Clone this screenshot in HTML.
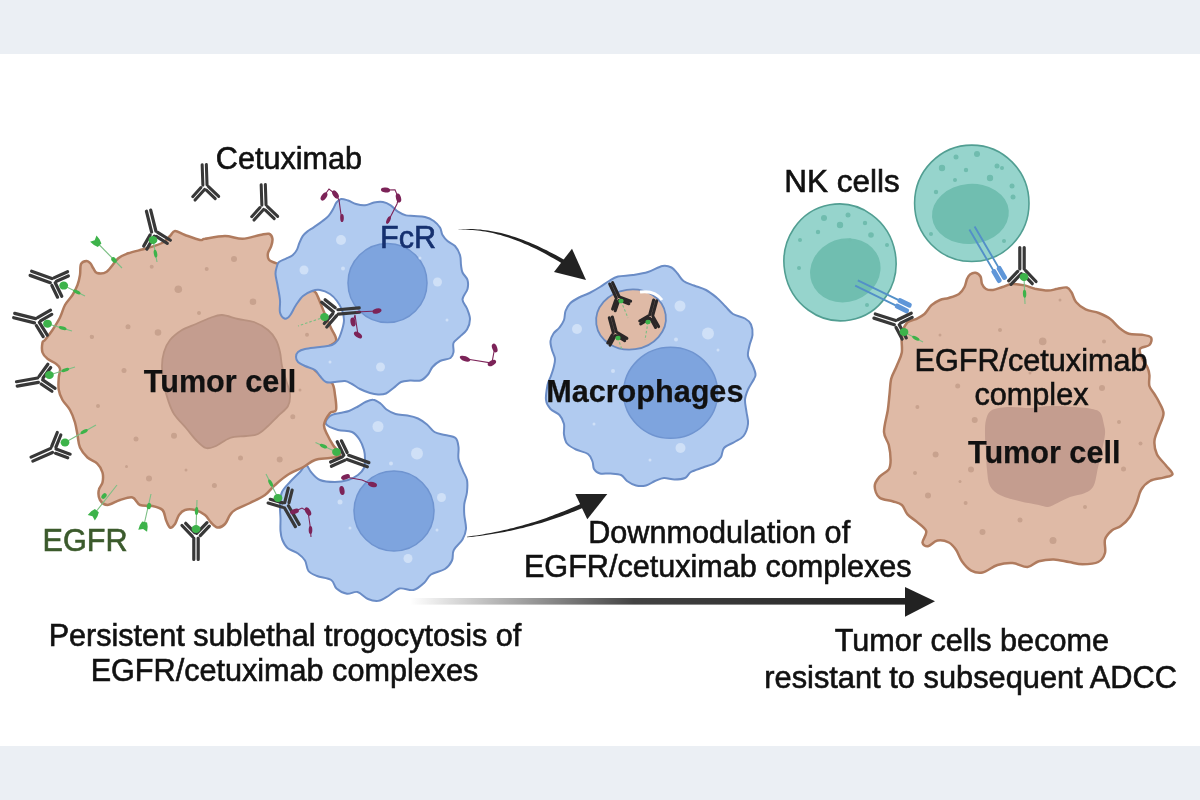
<!DOCTYPE html>
<html><head><meta charset="utf-8"><style>
html,body{margin:0;padding:0;background:#ebeff4;}
body{width:1200px;height:800px;overflow:hidden;position:relative;font-family:"Liberation Sans",sans-serif;}
svg{position:absolute;left:0;top:0;display:block;filter:blur(0.35px);}
text{font-family:"Liberation Sans",sans-serif;}
</style></head><body>
<svg width="1200" height="800" viewBox="0 0 1200 800">
<defs><filter id="sb" x="-20%" y="-20%" width="140%" height="140%"><feGaussianBlur stdDeviation="0.6"/></filter></defs>
<rect x="0" y="54" width="1200" height="692" fill="#ffffff"/>
<path d="M340 413C343.2 412.2 346 412.1 349 411C352 409.9 355.2 408 358 406.5C360.8 405 363 403.1 365.5 402C368 400.9 370.5 399.5 373 399.8C375.5 400 378.2 401.9 380.5 403.5C382.8 405.1 384 407.8 386.5 409.5C389 411.2 392 413 395.5 414C399 415 403.8 414.8 407.5 415.5C411.2 416.2 414.8 417 418 418.5C421.2 420 424.2 422.2 427 424.5C429.8 426.8 431.5 430.2 434.5 432C437.5 433.8 441.5 434 445 435C448.5 436 453.2 436 455.5 438C457.8 440 458 443.5 458.5 447C459 450.5 457.8 455 458.5 459C459.2 463 461.6 467.5 463 471C464.4 474.5 466.3 476.5 467 480C467.7 483.5 467.4 488 467 492C466.6 496 464.8 500.2 464.3 504C463.9 507.8 464 510.8 464.3 515C464.6 519.2 466.3 524.9 466 529C465.7 533.1 464.5 536 462.5 539.5C460.5 543 455.5 546.5 453.8 550C452 553.5 453.5 557.3 452 560.5C450.5 563.7 448.5 566.7 445 569C441.5 571.3 434.5 572.2 431 574.5C427.5 576.8 426.9 580.4 424 583C421.1 585.6 417.6 589.1 413.5 590C409.4 590.9 403.6 587.6 399.5 588.5C395.4 589.4 392.5 593.5 389 595.5C385.5 597.5 382 600.2 378.5 600.8C375 601.3 371.5 600.5 368 599C364.5 597.5 361 592.9 357.5 592C354 591.1 350.5 594.3 347 593.8C343.5 593.2 339.1 590.8 336.5 588.5C333.9 586.2 334.5 582.1 331.2 580C328 577.9 320.8 577.5 317 576C313.2 574.5 310.5 573.6 308.5 571C306.5 568.4 306.8 563.4 305 560.5C303.2 557.6 300.9 555.6 298 553.5C295.1 551.4 290.1 550.3 287.5 548C284.9 545.7 283.4 542.4 282.2 539.5C281.1 536.6 280.8 534.2 280.5 530.8C280.2 527.2 280.6 522.8 280.5 518.5C280.4 514.2 279.8 509.4 280 505C280.2 500.6 280.3 495.8 282 492C283.7 488.2 287 485.3 290 482C293 478.7 297.3 474.8 300 472C302.7 469.2 304.2 465 306 465C307.8 465 308.7 469.5 311 472C313.3 474.5 316 478.3 320 480C324 481.7 330.3 482 335 482C339.7 482 344.2 481.2 348 480C351.8 478.8 355.3 477 358 475C360.7 473 362.8 470.7 364 468C365.2 465.3 365 462 365 459C365 456 364.9 453.2 364 450C363.1 446.8 361.5 442.5 359.5 439.5C357.5 436.5 355.6 433.6 352 432C348.4 430.4 342.3 431.3 338 430C333.7 428.7 327.3 426.3 326 424C324.7 421.7 327.7 417.8 330 416C332.3 414.2 336.8 413.8 340 413Z" fill="#b1cbf0" stroke="#6a8cc6" stroke-width="2"/>
<circle cx="394" cy="511" r="40" fill="#7ea4de" stroke="#6f94d0" stroke-width="1.5"/>
<g filter="url(#sb)"><circle cx="378.0" cy="426.5" r="5.5" fill="#cfe0f7"/><circle cx="417.0" cy="453.5" r="6.0" fill="#cfe0f7"/><circle cx="391.0" cy="463.5" r="2.0" fill="#cfe0f7"/><circle cx="441.5" cy="497.5" r="4.5" fill="#cfe0f7"/><circle cx="408.0" cy="558.5" r="4.5" fill="#cfe0f7"/><circle cx="340.0" cy="502.0" r="2.5" fill="#cfe0f7"/><circle cx="350.0" cy="528.0" r="1.5" fill="#cfe0f7"/><circle cx="437.0" cy="530.0" r="1.5" fill="#cfe0f7"/></g>
<path d="M42.5 352.5C41.7 349.8 42.1 344.6 42.5 342.5C42.9 340.4 43.3 342.1 45 340C46.7 337.9 50 333.8 52.5 330C55 326.2 57.9 321.7 60 317.5C62.1 313.3 62.9 308.8 65 305C67.1 301.2 70.4 298.3 72.5 295C74.6 291.7 76.2 288.3 77.5 285C78.8 281.7 79.4 278.5 80 275C80.6 271.5 79.9 266.3 81 264C82.1 261.7 85.1 261.1 86.7 261C88.3 260.9 89.4 262.3 90.5 263.5C91.6 264.7 92.2 266.7 93.3 268.3C94.4 269.9 94.8 272.4 97 273C99.2 273.6 103.2 274.1 106.7 271.7C110.2 269.2 114.7 261.4 118.3 258.3C121.9 255.2 123.6 255 128.3 253.3C133 251.6 140.9 250.1 146.7 248.3C152.5 246.5 159.1 244.6 163 242.5C166.9 240.4 168 237.9 170 236C172 234.1 172.5 231.2 175 231C177.5 230.8 180.8 233.5 185 235C189.2 236.5 196.7 239.4 200 240C203.3 240.6 200.8 239.4 205 238.8C209.2 238.1 218.8 236 225 236C231.2 236 236.7 238.9 242.5 238.8C248.3 238.6 255.6 235.8 260 235C264.4 234.2 266.9 233.2 269 233.8C271.1 234.4 272 236.3 272.4 238.4C272.8 240.5 272 243.8 271.2 246.2C270.5 248.7 268.4 250.8 268 253C267.6 255.2 267.7 258.1 269 259.8C270.3 261.4 272.2 261.7 275.8 263.1C279.2 264.5 286 265.2 290 268C294 270.8 296.7 276.3 300 280C303.3 283.7 307.3 287.8 310 290C312.7 292.2 313.7 289.3 316 293C318.3 296.7 321.5 306.2 324 312C326.5 317.8 329 323.2 331 328C333 332.8 337.5 337.3 336 341C334.5 344.7 326.3 346.5 322 350C317.7 353.5 310.3 357.8 310 362C309.7 366.2 316.3 371.5 320 375C323.7 378.5 329.5 379.7 332 383C334.5 386.3 334.3 390.5 335 395C335.7 399.5 336.8 407 336 410C335.2 413 332 410.5 330 413C328 415.5 324.4 421.3 324 425C323.6 428.7 326 431.7 327.5 435C329 438.3 330.9 441.7 333 445C335.1 448.3 340.5 452.8 340 455C339.5 457.2 334.2 457.2 330 458C325.8 458.8 319.6 458.4 315 460C310.4 461.6 307.1 465 302.5 467.5C297.9 470 292.1 472.1 287.5 475C282.9 477.9 278.8 481.7 275 485C271.2 488.3 269.2 492 265 495C260.8 498 255 500.5 250 503C245 505.5 238.3 508 235 510C231.7 512 231.7 512.7 230 515C228.3 517.3 227.1 521.9 225 524C222.9 526.1 219.8 527.8 217.5 527.5C215.2 527.2 213.1 524.6 211 522.5C208.9 520.4 207.7 517.1 205 515C202.3 512.9 198.3 510.8 195 510C191.7 509.2 187.7 509.2 185 510C182.3 510.8 180.7 512.7 179 515C177.3 517.3 176.5 521.9 175 524C173.5 526.1 171.5 528.2 170 527.5C168.5 526.8 167.2 522.9 166 520C164.8 517.1 164.8 512.3 162.5 510C160.2 507.7 156.2 506.8 152.5 506C148.8 505.2 143.3 506.4 140 505C136.7 503.6 135.8 498.3 132.5 497.5C129.2 496.7 124.2 498.8 120 500C115.8 501.2 110.8 505 107.5 505C104.2 505 101.5 502.5 100 500C98.5 497.5 98.3 492.9 98.8 490C99.2 487.1 101.9 485.4 102.5 482.5C103.1 479.6 103.3 475.6 102.5 472.5C101.7 469.4 100 466.2 97.5 463.8C95 461.2 90.4 460.2 87.5 457.5C84.6 454.8 81.7 451.2 80 447.5C78.3 443.8 78.3 439.2 77.5 435C76.7 430.8 76.2 426.7 75 422.5C73.8 418.3 72.1 413.8 70 410C67.9 406.2 64.4 403.3 62.5 400C60.6 396.7 59.4 393.8 58.8 390C58.1 386.2 58.5 381 58.8 377.5C59 374 60.5 371 60 368.8C59.5 366.5 58.1 365.4 56 363.8C53.9 362.1 49.8 360.6 47.5 358.8C45.2 356.9 43.3 355.2 42.5 352.5Z" fill="#dfbaa6" stroke="#b07b5e" stroke-width="2.5"/>
<path d="M222 315C226.7 315.2 232.7 317.8 238 319C243.3 320.2 249 320.2 254 322C259 323.8 264.3 327 268 330C271.7 333 274 336.3 276 340C278 343.7 279 347.7 280 352C281 356.3 281 361.3 282 366C283 370.7 284.7 375.3 286 380C287.3 384.7 289.7 389.7 290 394C290.3 398.3 290 402.3 288 406C286 409.7 281.3 412.7 278 416C274.7 419.3 271.3 423 268 426C264.7 429 261.7 432.3 258 434C254.3 435.7 250.7 435.3 246 436C241.3 436.7 235 436.3 230 438C225 439.7 220 444.3 216 446C212 447.7 209.3 449 206 448C202.7 447 199.3 443.3 196 440C192.7 436.7 189.7 432.3 186 428C182.3 423.7 177 418.7 174 414C171 409.3 169.7 405 168 400C166.3 395 165 389.7 164 384C163 378.3 162 371.3 162 366C162 360.7 162.7 356.3 164 352C165.3 347.7 167 343.7 170 340C173 336.3 177.7 332.7 182 330C186.3 327.3 191.3 326 196 324C200.7 322 205.7 319.5 210 318C214.3 316.5 217.3 314.8 222 315Z" fill="#c49d8f" stroke="#b8917f" stroke-width="1.8"/>
<g filter="url(#sb)"><circle cx="178.3" cy="289.2" r="3.8" fill="#c8a28e"/><circle cx="234.0" cy="259.0" r="3.0" fill="#c8a28e"/><circle cx="206.7" cy="269.0" r="2.0" fill="#c8a28e"/><circle cx="253.0" cy="301.7" r="3.3" fill="#c8a28e"/><circle cx="199.0" cy="313.0" r="2.0" fill="#c8a28e"/><circle cx="128.0" cy="326.7" r="2.5" fill="#c8a28e"/><circle cx="158.0" cy="332.5" r="3.3" fill="#c8a28e"/><circle cx="91.7" cy="336.7" r="2.0" fill="#c8a28e"/><circle cx="151.7" cy="266.7" r="2.0" fill="#c8a28e"/><circle cx="92.0" cy="337.0" r="2.0" fill="#c8a28e"/><circle cx="124.0" cy="370.4" r="2.5" fill="#c8a28e"/><circle cx="98.0" cy="406.0" r="2.0" fill="#c8a28e"/><circle cx="136.0" cy="439.0" r="2.5" fill="#c8a28e"/><circle cx="174.0" cy="435.7" r="3.0" fill="#c8a28e"/><circle cx="126.5" cy="466.6" r="1.5" fill="#c8a28e"/><circle cx="149.0" cy="478.5" r="3.0" fill="#c8a28e"/><circle cx="186.0" cy="470.0" r="1.5" fill="#c8a28e"/><circle cx="214.4" cy="485.6" r="2.5" fill="#c8a28e"/><circle cx="240.5" cy="458.0" r="2.5" fill="#c8a28e"/><circle cx="279.7" cy="459.5" r="3.0" fill="#c8a28e"/><circle cx="292.8" cy="416.7" r="2.5" fill="#c8a28e"/><circle cx="307.0" cy="334.8" r="2.0" fill="#c8a28e"/><circle cx="285.0" cy="300.0" r="2.0" fill="#c8a28e"/><circle cx="300.0" cy="390.0" r="1.5" fill="#c8a28e"/></g>
<path d="M276.9 266.5C277.5 264.5 277.5 263.3 279 262C280.5 260.7 283.7 259.7 286 258.6C288.3 257.5 290.8 256.8 292.6 255.3C294.4 253.8 295.9 251.7 297 249.6C298.1 247.5 298.4 245.2 299.4 242.9C300.3 240.7 301.4 238 302.7 236.1C304 234.2 305.3 233.1 307.2 231.6C309.1 230.1 311.6 228.8 314 227.1C316.4 225.4 319.5 223.4 321.9 221.5C324.3 219.6 326.7 218 328.6 215.9C330.5 213.8 331.8 211.3 333.1 209.1C334.4 206.8 335.2 204.1 336.5 202.4C337.8 200.7 339.1 199.3 341 199C342.9 198.7 345.5 199.7 348 200.5C350.5 201.3 353.2 203.2 356 204C358.8 204.8 362 205.6 365 205.3C368 205.1 371 203.1 374 202.5C377 201.9 380.2 201.5 383 202C385.8 202.5 388.2 203.7 390.7 205.3C393.2 206.9 395.4 210 398 211.7C400.6 213.4 403.3 214.7 406 215.4C408.7 216.1 410.8 215.7 414 216C417.2 216.3 421.7 216.2 425 217C428.3 217.8 431.2 219.2 433.8 221C436.2 222.8 438.5 225.2 440 227.5C441.5 229.8 441.2 232.8 442.5 235C443.8 237.2 445.4 239.2 447.5 241C449.6 242.8 452.9 243.7 455 246C457.1 248.3 459 251.8 460 255C461 258.2 460.6 262.1 461 265C461.4 267.9 461.4 270 462.5 272.5C463.6 275 466.7 277.2 467.5 280C468.3 282.8 468.3 285.8 467.5 289C466.7 292.2 462.6 296.2 462.5 299.5C462.4 302.8 465.8 305.2 467 308.5C468.2 311.8 470 315.5 470 319C470 322.5 468.8 326.5 467 329.5C465.2 332.5 461.8 334.8 459.5 337C457.2 339.2 454.5 340.5 453.5 343C452.5 345.5 454 349.5 453.5 352C453 354.5 452.8 356.5 450.5 358C448.2 359.5 443 359.5 440 361C437 362.5 434.5 364.8 432.5 367C430.5 369.2 430 372.2 428 374.5C426 376.8 423.5 379.5 420.5 380.5C417.5 381.5 413.2 380.2 410 380.5C406.8 380.8 403.8 380.8 401 382C398.2 383.2 396 386.1 393.5 388C391 389.9 388.6 392.4 386 393.5C383.4 394.6 380.7 394.6 378 394.5C375.3 394.4 373 393.9 370 393C367 392.1 363 390.5 360 389C357 387.5 354.5 385.3 352 384C349.5 382.7 347.8 381.3 345 381C342.2 380.7 338.2 381.8 335 382C331.8 382.2 328.5 383 326 382C323.5 381 321.8 378 320 376C318.2 374 317.5 371.7 315 370C312.5 368.3 307.8 367.3 305 366C302.2 364.7 299.5 363.5 298 362C296.5 360.5 296 358.7 296 357C296 355.3 296.5 353.3 298 352C299.5 350.7 301.3 349.8 305 349C308.7 348.2 315.5 347.7 320 347C324.5 346.3 329 346.2 332 345C335 343.8 336.3 342.5 338 340C339.7 337.5 341 333.3 342 330C343 326.7 344 323.3 344 320C344 316.7 343.2 313.2 342 310C340.8 306.8 339 303.7 337 301C335 298.3 332.8 295.8 330 294C327.2 292.2 323 290.5 320 290C317 289.5 314.8 290 312 291C309.2 292 305.7 293.7 303 296C300.3 298.3 298.2 301.8 296 305C293.8 308.2 291.8 313.2 290 315.5C288.2 317.8 286.7 319.2 285 318.8C283.3 318.2 280.8 315.6 280 312.5C279.2 309.4 280.4 304.6 280 300C279.6 295.4 278.2 289.3 277.5 285C276.8 280.7 275.6 277.1 275.5 274C275.4 270.9 276.3 268.5 276.9 266.5Z" fill="#b1cbf0" stroke="#6a8cc6" stroke-width="2"/>
<circle cx="387.5" cy="283" r="39.5" fill="#7ea4de" stroke="#6f94d0" stroke-width="1.5"/>
<g filter="url(#sb)"><circle cx="341.0" cy="240.0" r="5.0" fill="#cfe0f7"/><circle cx="304.0" cy="270.0" r="4.5" fill="#cfe0f7"/><circle cx="437.5" cy="282.0" r="4.5" fill="#cfe0f7"/><circle cx="380.5" cy="367.0" r="4.5" fill="#cfe0f7"/><circle cx="343.0" cy="268.5" r="2.0" fill="#cfe0f7"/><circle cx="420.0" cy="258.0" r="1.5" fill="#cfe0f7"/><circle cx="447.0" cy="320.0" r="1.5" fill="#cfe0f7"/><circle cx="330.0" cy="362.0" r="1.5" fill="#cfe0f7"/></g>
<path d="M662.5 266C666.4 265.2 669 266.2 671.5 267.5C674 268.8 675.5 271.2 677.5 273.5C679.5 275.8 680.8 279 683.5 281C686.2 283 690.2 284 694 285.5C697.8 287 702.2 288 706 290C709.8 292 713.2 294.8 716.5 297.5C719.8 300.2 722.8 303.8 725.5 306.5C728.2 309.2 729.8 312 733 314C736.2 316 742 316.8 745 318.5C748 320.2 749.8 321.8 751 324.5C752.2 327.2 752.8 331.5 752.5 335C752.2 338.5 750.2 342 749.5 345.5C748.8 349 747.5 352.8 748 356C748.5 359.2 751.2 362 752.5 365C753.8 368 755.2 371.7 755.5 374C755.8 376.3 755.2 376.4 754 379C752.8 381.6 749.5 386 748 389.5C746.5 393 745.2 396.2 745 400C744.8 403.8 746 408 746.5 412C747 416 748.5 420 748 424C747.5 428 745.8 433 743.5 436C741.2 439 737.8 440 734.5 442C731.2 444 726.2 445.5 724 448C721.8 450.5 722.5 454.5 721 457C719.5 459.5 718 461.2 715 463C712 464.8 707 466 703 467.5C699 469 694 470.2 691 472C688 473.8 687.8 476.8 685 478C682.2 479.2 678 479.5 674.5 479.5C671 479.5 667.2 477.8 664 478C660.8 478.2 658 479.8 655 481C652 482.2 649.2 484.8 646 485.5C642.8 486.2 639.2 486.2 636 485.5C632.8 484.8 629.5 482.8 627 481C624.5 479.2 623.8 476.2 621 475C618.2 473.8 614 473.8 610.5 473.5C607 473.2 602.8 474.2 600 473.5C597.2 472.8 595.2 471 594 469C592.8 467 593.5 464 592.5 461.5C591.5 459 590.8 456 588 454C585.2 452 579.5 451.2 576 449.5C572.5 447.8 569 446 567 443.5C565 441 564.5 437.8 564 434.5C563.5 431.2 564.8 427.2 564 424C563.2 420.8 561.8 417.5 559.5 415C557.2 412.5 552.8 411.5 550.5 409C548.2 406.5 546.5 404 546 400C545.5 396 546.8 388.8 547.5 385C548.2 381.2 549.5 379.8 550.5 377C551.5 374.2 552.8 371 553.5 368C554.2 365 555.2 362 555 359C554.8 356 552.8 353 552 350C551.2 347 550.2 343.8 550.5 341C550.8 338.2 552 335.8 553.5 333.5C555 331.2 557.8 329.8 559.5 327.5C561.2 325.2 563 322.8 564 320C565 317.2 564.5 313.8 565.5 311C566.5 308.2 567.8 305.8 570 303.5C572.2 301.2 575.8 299.2 579 297.5C582.2 295.8 586 294.8 589.5 293C593 291.2 596.8 289 600 287C603.2 285 606 282.8 609 281C612 279.2 614 277.5 618 276.5C622 275.5 628 275.8 633 275C638 274.2 643.1 273.5 648 272C652.9 270.5 658.6 266.8 662.5 266Z" fill="#b1cbf0" stroke="#6a8cc6" stroke-width="2"/>
<ellipse cx="670.6" cy="392.8" rx="47" ry="45.5" fill="#7ea4de" stroke="#6f94d0" stroke-width="1.5"/>
<g filter="url(#sb)"><circle cx="680.0" cy="306.0" r="5.5" fill="#cfe0f7"/><circle cx="708.0" cy="333.5" r="6.0" fill="#cfe0f7"/><circle cx="577.0" cy="329.0" r="5.0" fill="#cfe0f7"/><circle cx="680.5" cy="448.0" r="5.0" fill="#cfe0f7"/><circle cx="613.0" cy="371.0" r="2.0" fill="#cfe0f7"/><circle cx="676.0" cy="339.5" r="2.0" fill="#cfe0f7"/><circle cx="718.0" cy="350.0" r="1.5" fill="#cfe0f7"/><circle cx="594.0" cy="424.0" r="1.5" fill="#cfe0f7"/><circle cx="650.0" cy="460.0" r="1.5" fill="#cfe0f7"/></g>
<ellipse cx="631" cy="319.5" rx="35" ry="30" fill="#dfbaa6" stroke="#6a8ac0" stroke-width="1.8" transform="rotate(-8 631 319.5)"/>
<ellipse cx="840" cy="262.4" rx="56" ry="58.5" fill="#96d4cc" stroke="#519e92" stroke-width="1.6" transform="rotate(-10 840 262.4)"/>
<ellipse cx="845.3" cy="270.3" rx="35.7" ry="31.6" fill="#70beb0" transform="rotate(-20 845.3 270.3)"/>
<ellipse cx="971.8" cy="203.3" rx="57.2" ry="58.2" fill="#96d4cc" stroke="#519e92" stroke-width="1.6"/>
<ellipse cx="970.4" cy="213.9" rx="38.5" ry="30" fill="#70beb0" transform="rotate(-5 970.4 213.9)"/>
<path d="M907 322.8C909.3 320.1 912.8 320.7 915.8 319.2C918.7 317.8 921.9 316.3 924.5 314C927.1 311.7 928.9 307.6 931.5 305.2C934.1 302.9 937.1 301.2 940 300C942.9 298.8 945.5 299 948.7 298C951.9 297 956.4 295.8 959 294C961.6 292.2 963.2 289.5 964.5 287C965.8 284.5 966.1 281.1 967 279C967.9 276.9 968.6 275.5 970 274.5C971.4 273.5 973.8 272.5 975.5 272.8C977.2 273.1 979.4 274.6 980.5 276.5C981.6 278.4 981.1 281.9 982 284C982.9 286.1 984.2 288 986 289C987.8 290 990.2 290.3 993 290C995.8 289.7 999.3 288 1002.5 287C1005.7 286 1008.3 284.3 1012 284C1015.7 283.7 1020.9 284.6 1024.7 285.4C1028.5 286.2 1031.1 287.9 1035 288.8C1038.9 289.6 1044.2 290.6 1048 290.6C1051.8 290.6 1054.3 289.3 1057.5 288.8C1060.7 288.2 1064.6 286.9 1066.9 287.5C1069.2 288.1 1070.1 290.1 1071.6 292.5C1073.1 294.9 1073.7 299.2 1076 302C1078.3 304.8 1081.8 307.6 1085.6 309.4C1089.4 311.2 1094.7 311.4 1098.8 313C1102.8 314.6 1106.6 316.2 1110 318.8C1113.4 321.2 1116.3 325.5 1119.4 328C1122.5 330.5 1125 332.6 1128.8 333.8C1132.5 334.9 1138.3 334.1 1142 334.7C1145.7 335.3 1149.8 335.8 1151 337.5C1152.2 339.2 1151.2 343.1 1149.4 345C1147.6 346.9 1141.2 346.6 1140 348.8C1138.8 350.9 1140.7 354.9 1141.9 358C1143.2 361.1 1146.2 364.7 1147.5 367.5C1148.8 370.3 1149.1 371.9 1149.4 375C1149.7 378.1 1148.5 382.7 1149.4 386C1150.3 389.3 1153.4 392.3 1155 395C1156.6 397.7 1157.6 398.9 1159 402C1160.4 405.1 1163.5 409.3 1163.5 413.5C1163.5 417.7 1160.5 422.5 1159 427C1157.5 431.5 1154.9 436 1154.5 440.5C1154.1 445 1154.9 449.9 1156.8 454C1158.6 458.1 1163.1 461.9 1165.8 465.2C1168.4 468.6 1172.9 472.2 1172.5 474.2C1172.1 476.3 1167.2 476.5 1163.5 477.6C1159.8 478.7 1153.8 478.9 1150 481C1146.2 483.1 1143.2 486.2 1141 490C1138.8 493.8 1138.4 499 1136.5 503.5C1134.6 508 1132.4 513.2 1129.8 517C1127.1 520.8 1123.8 523.8 1120.8 526C1117.8 528.2 1114.4 528.2 1111.8 530.5C1109.1 532.8 1106.1 535.8 1105 539.5C1103.9 543.2 1106.1 549.2 1105 553C1103.9 556.8 1102 560.1 1098.2 562C1094.5 563.9 1087.4 564.2 1082.5 564.2C1077.6 564.2 1073.8 562.8 1069 562C1064.2 561.2 1058.8 559.5 1053.8 559.4C1048.7 559.3 1043.1 560 1038.8 561.2C1034.4 562.5 1031.9 566.7 1027.5 567C1023.1 567.3 1017.5 563.3 1012.5 563C1007.5 562.7 1002.5 563.4 997.5 565C992.5 566.6 986.9 571.6 982.5 572.5C978.1 573.4 974.7 572.5 971.2 570.6C967.8 568.7 964.4 564.7 961.9 561.2C959.4 557.8 958.4 553.1 956.2 550C954.1 546.9 951.9 544.1 948.8 542.5C945.6 540.9 941 540 937.5 540.6C934 541.2 930.5 545.9 928 546.2C925.5 546.6 922.8 545 922.5 542.5C922.2 540 927.2 534.7 926.2 531.2C925.3 527.8 920 524.7 916.9 521.9C913.8 519.1 910 517.2 907.5 514.4C905 511.6 904.4 507.2 901.9 505C899.4 502.8 896.2 502.5 892.5 501.2C888.8 500 882.4 500 879.4 497.5C876.4 495 874.7 489.7 874.7 486.2C874.7 482.8 877.1 479.7 879.4 476.9C881.7 474.1 886.9 472.2 888.8 469.4C890.6 466.6 890.6 464.1 890.6 460C890.6 455.9 889.9 449.7 888.8 445C887.6 440.3 884.2 437.8 884 432C883.8 426.2 886.8 416.5 887.8 410.2C888.7 404 888.9 399.8 889.5 394.5C890.1 389.2 890.1 383.4 891.2 378.8C892.4 374.1 894.8 370.9 896.5 366.5C898.2 362.1 900.9 357.8 901.8 352.5C902.6 347.2 900.9 340 901.8 335C902.6 330 904.7 325.4 907 322.8Z" fill="#dfbaa6" stroke="#b07b5e" stroke-width="2.5"/>
<path d="M992 410C996 407.8 1003.7 407.3 1010 407C1016.3 406.7 1023.3 408.2 1030 408C1036.7 407.8 1042.5 406.2 1050 406C1057.5 405.8 1068 406.5 1075 407C1082 407.5 1087.8 408 1092 409C1096.2 410 1098.5 410.3 1100.5 413C1102.5 415.7 1103.2 421.5 1104 425C1104.8 428.5 1105.3 429.8 1105 434C1104.7 438.2 1103.2 444.4 1102 450C1100.8 455.6 1099.4 461.6 1098 467.5C1096.6 473.4 1095.9 481.2 1093.8 485.5C1091.6 489.8 1089 491.1 1085 493C1081 494.9 1074.6 495.3 1070 497C1065.4 498.7 1061.2 501.3 1057.5 503C1053.8 504.7 1051.1 506.7 1048 507C1044.9 507.3 1043.4 506 1038.8 505C1034.1 504 1026.3 502.8 1020 501.2C1013.7 499.7 1006 498.1 1001 495.6C996 493.1 992.3 490.3 990 486C987.7 481.7 987.7 475.6 987 470C986.3 464.4 986.3 458.3 986 452.5C985.7 446.7 985 440.4 985 435C985 429.6 984.8 424.2 986 420C987.2 415.8 988 412.2 992 410Z" fill="#c49d8f"/>
<g transform="translate(856.5 283.0) rotate(25.9)"><path d="M0 -3L49.5 -3M0 3L49.5 3" stroke="#5390c8" stroke-width="1.9" fill="none"/><rect x="44.5" y="-5.6" width="15" height="5" rx="2" fill="#5f96d8"/><rect x="44.5" y="0.6" width="15" height="5" rx="2" fill="#5f96d8"/></g>
<g transform="translate(972.0 228.0) rotate(59.7)"><path d="M0 -3L51.4 -3M0 3L51.4 3" stroke="#5390c8" stroke-width="1.9" fill="none"/><rect x="46.4" y="-5.6" width="15" height="5" rx="2" fill="#5f96d8"/><rect x="46.4" y="0.6" width="15" height="5" rx="2" fill="#5f96d8"/></g>
<g filter="url(#sb)"><circle cx="824.0" cy="218.0" r="3.0" fill="#6fbcae"/><circle cx="848.0" cy="215.0" r="2.5" fill="#6fbcae"/><circle cx="840.0" cy="225.0" r="3.2" fill="#6fbcae"/><circle cx="865.0" cy="223.0" r="2.2" fill="#6fbcae"/><circle cx="800.0" cy="240.0" r="2.0" fill="#6fbcae"/><circle cx="818.0" cy="232.0" r="2.2" fill="#6fbcae"/><circle cx="871.0" cy="235.0" r="2.8" fill="#6fbcae"/><circle cx="887.0" cy="245.0" r="2.0" fill="#6fbcae"/><circle cx="799.0" cy="268.0" r="2.0" fill="#6fbcae"/><circle cx="867.0" cy="305.0" r="2.0" fill="#6fbcae"/><circle cx="850.0" cy="240.0" r="1.8" fill="#6fbcae"/></g>
<g filter="url(#sb)"><circle cx="956.0" cy="157.0" r="2.5" fill="#6fbcae"/><circle cx="977.0" cy="154.0" r="3.0" fill="#6fbcae"/><circle cx="997.0" cy="166.0" r="2.5" fill="#6fbcae"/><circle cx="942.0" cy="168.0" r="3.2" fill="#6fbcae"/><circle cx="966.0" cy="170.0" r="2.2" fill="#6fbcae"/><circle cx="990.0" cy="178.0" r="3.2" fill="#6fbcae"/><circle cx="1002.0" cy="168.0" r="2.0" fill="#6fbcae"/><circle cx="1012.0" cy="186.0" r="2.5" fill="#6fbcae"/><circle cx="936.0" cy="192.0" r="2.2" fill="#6fbcae"/><circle cx="1013.0" cy="197.0" r="2.5" fill="#6fbcae"/><circle cx="931.0" cy="234.0" r="2.0" fill="#6fbcae"/><circle cx="1004.0" cy="241.0" r="2.0" fill="#6fbcae"/><circle cx="955.0" cy="180.0" r="2.0" fill="#6fbcae"/></g>
<g filter="url(#sb)"><circle cx="1042.7" cy="341.4" r="3.8" fill="#c8a28e"/><circle cx="1104.0" cy="341.4" r="2.0" fill="#c8a28e"/><circle cx="957.7" cy="386.0" r="2.5" fill="#c8a28e"/><circle cx="1102.0" cy="388.0" r="3.0" fill="#c8a28e"/><circle cx="917.4" cy="407.0" r="2.0" fill="#c8a28e"/><circle cx="974.7" cy="420.0" r="3.0" fill="#c8a28e"/><circle cx="1119.0" cy="422.0" r="2.0" fill="#c8a28e"/><circle cx="1140.5" cy="443.4" r="2.0" fill="#c8a28e"/><circle cx="935.6" cy="454.4" r="3.0" fill="#c8a28e"/><circle cx="915.0" cy="473.0" r="2.0" fill="#c8a28e"/><circle cx="1123.5" cy="469.0" r="2.5" fill="#c8a28e"/><circle cx="928.0" cy="495.6" r="3.0" fill="#c8a28e"/><circle cx="971.0" cy="469.4" r="3.0" fill="#c8a28e"/><circle cx="965.6" cy="503.0" r="2.0" fill="#c8a28e"/><circle cx="982.5" cy="532.0" r="3.0" fill="#c8a28e"/><circle cx="1020.0" cy="520.0" r="2.5" fill="#c8a28e"/><circle cx="1053.0" cy="540.6" r="3.5" fill="#c8a28e"/><circle cx="1085.0" cy="507.0" r="2.0" fill="#c8a28e"/><circle cx="960.0" cy="481.6" r="1.5" fill="#c8a28e"/><circle cx="1030.0" cy="373.0" r="1.5" fill="#c8a28e"/><circle cx="1000.0" cy="330.0" r="2.0" fill="#c8a28e"/><circle cx="940.0" cy="335.0" r="1.5" fill="#c8a28e"/><circle cx="1060.0" cy="300.0" r="1.5" fill="#c8a28e"/></g>
<g transform="translate(154.0 232.5) rotate(-104.0) scale(1.00)" stroke="#383838" stroke-width="3.2" stroke-linecap="round" fill="none"><path d="M1 -2.2L22.5 -2.2M1 2.2L22.5 2.2"/><g transform="rotate(136)"><path d="M3 -2.1L18 -2.1M4 2.1L17 2.1"/></g><g transform="rotate(-136)"><path d="M3 -2.1L18 -2.1M4 2.1L17 2.1"/></g></g>
<g transform="translate(52.0 281.0) rotate(200.0) scale(1.00)" stroke="#383838" stroke-width="3.2" stroke-linecap="round" fill="none"><path d="M1 -2.2L22.5 -2.2M1 2.2L22.5 2.2"/><g transform="rotate(136)"><path d="M3 -2.1L18 -2.1M4 2.1L17 2.1"/></g><g transform="rotate(-136)"><path d="M3 -2.1L18 -2.1M4 2.1L17 2.1"/></g></g>
<g transform="translate(36.0 321.0) rotate(194.0) scale(1.00)" stroke="#383838" stroke-width="3.2" stroke-linecap="round" fill="none"><path d="M1 -2.2L22.5 -2.2M1 2.2L22.5 2.2"/><g transform="rotate(136)"><path d="M3 -2.1L18 -2.1M4 2.1L17 2.1"/></g><g transform="rotate(-136)"><path d="M3 -2.1L18 -2.1M4 2.1L17 2.1"/></g></g>
<g transform="translate(39.0 380.0) rotate(170.0) scale(1.00)" stroke="#383838" stroke-width="3.2" stroke-linecap="round" fill="none"><path d="M1 -2.2L22.5 -2.2M1 2.2L22.5 2.2"/><g transform="rotate(136)"><path d="M3 -2.1L18 -2.1M4 2.1L17 2.1"/></g><g transform="rotate(-136)"><path d="M3 -2.1L18 -2.1M4 2.1L17 2.1"/></g></g>
<g transform="translate(52.5 450.0) rotate(156.0) scale(1.00)" stroke="#383838" stroke-width="3.2" stroke-linecap="round" fill="none"><path d="M1 -2.2L22.5 -2.2M1 2.2L22.5 2.2"/><g transform="rotate(136)"><path d="M3 -2.1L18 -2.1M4 2.1L17 2.1"/></g><g transform="rotate(-136)"><path d="M3 -2.1L18 -2.1M4 2.1L17 2.1"/></g></g>
<g transform="translate(196.0 537.0) rotate(90.0) scale(1.00)" stroke="#383838" stroke-width="3.2" stroke-linecap="round" fill="none"><path d="M1 -2.2L22.5 -2.2M1 2.2L22.5 2.2"/><g transform="rotate(136)"><path d="M3 -2.1L18 -2.1M4 2.1L17 2.1"/></g><g transform="rotate(-136)"><path d="M3 -2.1L18 -2.1M4 2.1L17 2.1"/></g></g>
<g transform="translate(286.0 506.0) rotate(60.0) scale(1.00)" stroke="#383838" stroke-width="3.2" stroke-linecap="round" fill="none"><path d="M1 -2.2L22.5 -2.2M1 2.2L22.5 2.2"/><g transform="rotate(136)"><path d="M3 -2.1L18 -2.1M4 2.1L17 2.1"/></g><g transform="rotate(-136)"><path d="M3 -2.1L18 -2.1M4 2.1L17 2.1"/></g></g>
<g transform="translate(347.0 457.0) rotate(20.0) scale(1.00)" stroke="#383838" stroke-width="3.2" stroke-linecap="round" fill="none"><path d="M1 -2.2L22.5 -2.2M1 2.2L22.5 2.2"/><g transform="rotate(136)"><path d="M3 -2.1L18 -2.1M4 2.1L17 2.1"/></g><g transform="rotate(-136)"><path d="M3 -2.1L18 -2.1M4 2.1L17 2.1"/></g></g>
<g transform="translate(337.0 312.0) rotate(-5.0) scale(1.00)" stroke="#383838" stroke-width="3.2" stroke-linecap="round" fill="none"><path d="M1 -2.2L22.5 -2.2M1 2.2L22.5 2.2"/><g transform="rotate(136)"><path d="M3 -2.1L18 -2.1M4 2.1L17 2.1"/></g><g transform="rotate(-136)"><path d="M3 -2.1L18 -2.1M4 2.1L17 2.1"/></g></g>
<g transform="translate(205.0 186.0) rotate(-92.0) scale(0.95)" stroke="#383838" stroke-width="3.2" stroke-linecap="round" fill="none"><path d="M1 -2.2L22.5 -2.2M1 2.2L22.5 2.2"/><g transform="rotate(136)"><path d="M3 -2.1L18 -2.1M4 2.1L17 2.1"/></g><g transform="rotate(-136)"><path d="M3 -2.1L18 -2.1M4 2.1L17 2.1"/></g></g>
<g transform="translate(264.0 206.0) rotate(-92.0) scale(0.95)" stroke="#383838" stroke-width="3.2" stroke-linecap="round" fill="none"><path d="M1 -2.2L22.5 -2.2M1 2.2L22.5 2.2"/><g transform="rotate(136)"><path d="M3 -2.1L18 -2.1M4 2.1L17 2.1"/></g><g transform="rotate(-136)"><path d="M3 -2.1L18 -2.1M4 2.1L17 2.1"/></g></g>
<g transform="translate(1022.0 270.0) rotate(-90.0) scale(1.00)" stroke="#383838" stroke-width="3.2" stroke-linecap="round" fill="none"><path d="M1 -2.2L22.5 -2.2M1 2.2L22.5 2.2"/><g transform="rotate(136)"><path d="M3 -2.1L18 -2.1M4 2.1L17 2.1"/></g><g transform="rotate(-136)"><path d="M3 -2.1L18 -2.1M4 2.1L17 2.1"/></g></g>
<g transform="translate(896.0 323.0) rotate(198.0) scale(1.00)" stroke="#383838" stroke-width="3.2" stroke-linecap="round" fill="none"><path d="M1 -2.2L22.5 -2.2M1 2.2L22.5 2.2"/><g transform="rotate(136)"><path d="M3 -2.1L18 -2.1M4 2.1L17 2.1"/></g><g transform="rotate(-136)"><path d="M3 -2.1L18 -2.1M4 2.1L17 2.1"/></g></g>
<line x1="153.0" y1="240.0" x2="157.0" y2="262.0" stroke="#7cbf84" stroke-width="1.1"/><ellipse cx="155.5" cy="253.6" rx="4" ry="1.7" fill="#3db34a" transform="rotate(79.7 155.5 253.6)"/><ellipse cx="153.0" cy="240.0" rx="4.4" ry="4.0" fill="#3db34a"/>
<line x1="63.7" y1="285.6" x2="85.0" y2="296.0" stroke="#7cbf84" stroke-width="1.1"/><ellipse cx="76.9" cy="292.0" rx="4" ry="1.7" fill="#3db34a" transform="rotate(26.0 76.9 292.0)"/><ellipse cx="63.7" cy="285.6" rx="4.4" ry="4.0" fill="#3db34a"/>
<line x1="47.5" y1="323.7" x2="72.0" y2="331.0" stroke="#7cbf84" stroke-width="1.1"/><ellipse cx="62.7" cy="328.2" rx="4" ry="1.7" fill="#3db34a" transform="rotate(16.6 62.7 328.2)"/><ellipse cx="47.5" cy="323.7" rx="4.4" ry="4.0" fill="#3db34a"/>
<line x1="49.4" y1="375.0" x2="75.0" y2="367.0" stroke="#7cbf84" stroke-width="1.1"/><ellipse cx="65.3" cy="370.0" rx="4" ry="1.7" fill="#3db34a" transform="rotate(-17.4 65.3 370.0)"/><ellipse cx="49.4" cy="375.0" rx="4.4" ry="4.0" fill="#3db34a"/>
<line x1="65.0" y1="442.5" x2="96.0" y2="425.0" stroke="#7cbf84" stroke-width="1.1"/><ellipse cx="84.2" cy="431.6" rx="4" ry="1.7" fill="#3db34a" transform="rotate(-29.4 84.2 431.6)"/><ellipse cx="65.0" cy="442.5" rx="4.4" ry="4.0" fill="#3db34a"/>
<line x1="196.0" y1="529.0" x2="197.0" y2="500.0" stroke="#7cbf84" stroke-width="1.1"/><ellipse cx="196.6" cy="511.0" rx="4" ry="1.7" fill="#3db34a" transform="rotate(-88.0 196.6 511.0)"/><ellipse cx="196.0" cy="529.0" rx="4.4" ry="4.0" fill="#3db34a"/>
<line x1="278.0" y1="498.0" x2="266.0" y2="474.0" stroke="#7cbf84" stroke-width="1.1"/><ellipse cx="270.6" cy="483.1" rx="4" ry="1.7" fill="#3db34a" transform="rotate(-116.6 270.6 483.1)"/><ellipse cx="278.0" cy="498.0" rx="4.4" ry="4.0" fill="#3db34a"/>
<line x1="336.5" y1="452.0" x2="315.5" y2="442.5" stroke="#7cbf84" stroke-width="1.1"/><ellipse cx="323.5" cy="446.1" rx="4" ry="1.7" fill="#3db34a" transform="rotate(-155.7 323.5 446.1)"/><ellipse cx="336.5" cy="452.0" rx="4.4" ry="4.0" fill="#3db34a"/>
<line x1="324.5" y1="317.0" x2="298.0" y2="326.0" stroke="#7cbf84" stroke-width="1.1" stroke-dasharray="2.5 2"/><ellipse cx="324.5" cy="317.0" rx="4.4" ry="4.0" fill="#3db34a"/>
<line x1="1024.0" y1="277.0" x2="1025.0" y2="304.0" stroke="#7cbf84" stroke-width="1.1"/><ellipse cx="1024.6" cy="293.7" rx="4" ry="1.7" fill="#3db34a" transform="rotate(87.9 1024.6 293.7)"/><ellipse cx="1024.0" cy="277.0" rx="4.4" ry="4.0" fill="#3db34a"/>
<line x1="904.0" y1="332.0" x2="923.0" y2="342.0" stroke="#7cbf84" stroke-width="1.1"/><ellipse cx="915.8" cy="338.2" rx="4" ry="1.7" fill="#3db34a" transform="rotate(27.8 915.8 338.2)"/><ellipse cx="904.0" cy="332.0" rx="4.4" ry="4.0" fill="#3db34a"/>
<line x1="97.5" y1="243.0" x2="122.0" y2="268.0" stroke="#7cbf84" stroke-width="1.1"/><g transform="translate(97.5 243.0) rotate(45.6)" fill="#3db34a"><path d="M-6 -4.5 L-1 -4 L3 -2.5 L3 2.5 L-1 4 L-6 4.5 L-4 0Z"/></g><ellipse cx="114.0" cy="260.0" rx="3.2" ry="2.2" fill="#3db34a" transform="rotate(45.6 114.0 260.0)"/>
<line x1="95.0" y1="513.0" x2="117.0" y2="485.0" stroke="#7cbf84" stroke-width="1.1"/><g transform="translate(95.0 513.0) rotate(-51.8)" fill="#3db34a"><path d="M-6 -4.5 L-1 -4 L3 -2.5 L3 2.5 L-1 4 L-6 4.5 L-4 0Z"/></g><ellipse cx="104.0" cy="496.0" rx="3.2" ry="2.2" fill="#3db34a" transform="rotate(-51.8 104.0 496.0)"/>
<line x1="144.0" y1="525.0" x2="151.0" y2="494.0" stroke="#7cbf84" stroke-width="1.1"/><g transform="translate(144.0 525.0) rotate(-77.3)" fill="#3db34a"><path d="M-6 -4.5 L-1 -4 L3 -2.5 L3 2.5 L-1 4 L-6 4.5 L-4 0Z"/></g><ellipse cx="149.0" cy="506.0" rx="3.2" ry="2.2" fill="#3db34a" transform="rotate(-77.3 149.0 506.0)"/>
<polyline points="324.0,196.0 329.0,189.0 335.7,194.3 339.0,200.0 342.0,222.0" fill="none" stroke="#7c2358" stroke-width="1.1"/>
<ellipse cx="324.0" cy="196.5" rx="4.6" ry="2.5" fill="#7c2358" transform="rotate(-55.0 324.0 196.5)"/><ellipse cx="335.5" cy="194.5" rx="4.6" ry="2.5" fill="#7c2358" transform="rotate(55.0 335.5 194.5)"/><ellipse cx="342.0" cy="218.0" rx="4.0" ry="1.8" fill="#7c2358" transform="rotate(90.0 342.0 218.0)"/>
<polyline points="385.0,190.0 395.0,189.7 398.5,198.0 397.0,204.0 387.0,223.6" fill="none" stroke="#7c2358" stroke-width="1.1"/>
<ellipse cx="385.5" cy="190.0" rx="4.6" ry="2.5" fill="#7c2358" transform="rotate(5.0 385.5 190.0)"/><ellipse cx="398.5" cy="198.0" rx="4.6" ry="2.5" fill="#7c2358" transform="rotate(75.0 398.5 198.0)"/><ellipse cx="388.5" cy="220.0" rx="4.0" ry="1.8" fill="#7c2358" transform="rotate(115.0 388.5 220.0)"/>
<polyline points="356.0,312.0 377.0,311.0" fill="none" stroke="#7c2358" stroke-width="1.1"/><ellipse cx="377.0" cy="311.0" rx="4.6" ry="2.5" fill="#7c2358" transform="rotate(-15.0 377.0 311.0)"/><ellipse cx="353.0" cy="322.0" rx="4.6" ry="2.5" fill="#7c2358" transform="rotate(80.0 353.0 322.0)"/><ellipse cx="358.0" cy="335.0" rx="4.6" ry="2.5" fill="#7c2358" transform="rotate(35.0 358.0 335.0)"/><polyline points="353.0,322.0 355.0,315.0 358.0,335.0" fill="none" stroke="#7c2358" stroke-width="1.1"/>
<polyline points="465.0,358.7 491.9,363.0 494.7,348.0" fill="none" stroke="#7c2358" stroke-width="1.1"/><ellipse cx="465.0" cy="358.7" rx="5.5" ry="2.5" fill="#7c2358" transform="rotate(20.0 465.0 358.7)"/><ellipse cx="491.9" cy="363.0" rx="4.6" ry="2.5" fill="#7c2358" transform="rotate(-30.0 491.9 363.0)"/><ellipse cx="494.7" cy="348.0" rx="4.6" ry="2.5" fill="#7c2358" transform="rotate(70.0 494.7 348.0)"/>
<polyline points="345.5,477.0 362.0,480.0 372.5,484.5" fill="none" stroke="#7c2358" stroke-width="1.1"/><ellipse cx="345.5" cy="477.0" rx="4.6" ry="2.5" fill="#7c2358" transform="rotate(-20.0 345.5 477.0)"/><ellipse cx="342.0" cy="490.5" rx="4.6" ry="2.5" fill="#7c2358" transform="rotate(80.0 342.0 490.5)"/><ellipse cx="372.5" cy="484.5" rx="4.6" ry="2.5" fill="#7c2358" transform="rotate(15.0 372.5 484.5)"/>
<polyline points="294.5,511.5 302.0,508.0 308.0,511.5 310.0,525.0 311.0,537.0" fill="none" stroke="#7c2358" stroke-width="1.1"/><ellipse cx="294.5" cy="511.5" rx="4.6" ry="2.5" fill="#7c2358" transform="rotate(-20.0 294.5 511.5)"/><ellipse cx="308.0" cy="511.5" rx="4.6" ry="2.5" fill="#7c2358" transform="rotate(60.0 308.0 511.5)"/><ellipse cx="310.5" cy="530.0" rx="4.0" ry="1.8" fill="#7c2358" transform="rotate(90.0 310.5 530.0)"/>
<path d="M640 292 Q655 290 662 300" stroke="#ffffff" stroke-width="3" fill="none"/>
<g transform="translate(618.0 298.0) rotate(-115.0) scale(0.72)" stroke="#2b2727" stroke-width="4.2" stroke-linecap="round" fill="none"><path d="M1 -2.2L22.5 -2.2M1 2.2L22.5 2.2"/><g transform="rotate(136)"><path d="M3 -2.1L18 -2.1M4 2.1L17 2.1"/></g><g transform="rotate(-136)"><path d="M3 -2.1L18 -2.1M4 2.1L17 2.1"/></g></g>
<g transform="translate(651.0 316.0) rotate(-75.0) scale(0.72)" stroke="#2b2727" stroke-width="4.2" stroke-linecap="round" fill="none"><path d="M1 -2.2L22.5 -2.2M1 2.2L22.5 2.2"/><g transform="rotate(136)"><path d="M3 -2.1L18 -2.1M4 2.1L17 2.1"/></g><g transform="rotate(-136)"><path d="M3 -2.1L18 -2.1M4 2.1L17 2.1"/></g></g>
<g transform="translate(615.0 333.0) rotate(-105.0) scale(0.72)" stroke="#2b2727" stroke-width="4.2" stroke-linecap="round" fill="none"><path d="M1 -2.2L22.5 -2.2M1 2.2L22.5 2.2"/><g transform="rotate(136)"><path d="M3 -2.1L18 -2.1M4 2.1L17 2.1"/></g><g transform="rotate(-136)"><path d="M3 -2.1L18 -2.1M4 2.1L17 2.1"/></g></g>
<line x1="621.0" y1="301.0" x2="628.0" y2="318.0" stroke="#7cbf84" stroke-width="1.1" stroke-dasharray="2.5 2"/><ellipse cx="621.0" cy="301.0" rx="2.6" ry="2.3" fill="#3db34a"/>
<line x1="648.0" y1="322.0" x2="645.0" y2="340.0" stroke="#7cbf84" stroke-width="1.1" stroke-dasharray="2.5 2"/><ellipse cx="648.0" cy="322.0" rx="2.6" ry="2.3" fill="#3db34a"/>
<line x1="618.0" y1="338.0" x2="622.0" y2="350.0" stroke="#7cbf84" stroke-width="1.1" stroke-dasharray="2.5 2"/><ellipse cx="618.0" cy="338.0" rx="2.6" ry="2.3" fill="#3db34a"/>
<path d="M458.5 229.9 L460.8 229.8 L463.2 229.8 L465.6 229.8 L468.0 229.8 L470.4 229.9 L472.8 230.1 L475.2 230.3 L477.7 230.5 L480.1 230.8 L482.6 231.2 L485.1 231.6 L487.7 232.0 L490.2 232.5 L492.8 233.1 L495.4 233.7 L497.9 234.4 L500.6 235.1 L503.2 235.9 L505.9 236.7 L508.5 237.6 L511.2 238.5 L513.9 239.5 L516.6 240.5 L519.4 241.6 L522.2 242.7 L524.9 243.9 L527.7 245.1 L530.6 246.4 L533.4 247.7 L536.2 249.1 L539.1 250.6 L542.0 252.1 L544.9 253.6 L547.9 255.2 L550.8 256.9 L553.8 258.6 L556.8 260.3 L559.8 262.1 L562.8 264.0 L565.9 265.9 L568.1 262.1 L565.0 260.3 L561.9 258.5 L558.8 256.8 L555.7 255.1 L552.7 253.4 L549.6 251.9 L546.6 250.3 L543.6 248.9 L540.6 247.5 L537.7 246.1 L534.8 244.8 L531.8 243.5 L528.9 242.3 L526.1 241.2 L523.2 240.0 L520.4 239.0 L517.6 238.0 L514.8 237.1 L512.0 236.2 L509.2 235.3 L506.5 234.5 L503.8 233.8 L501.1 233.1 L498.4 232.5 L495.8 231.9 L493.1 231.4 L490.5 230.9 L487.9 230.5 L485.4 230.2 L482.8 229.9 L480.3 229.6 L477.8 229.4 L475.3 229.2 L472.8 229.1 L470.4 229.1 L468.0 229.1 L465.6 229.2 L463.2 229.3 L460.8 229.4 L458.5 229.7Z" fill="#222"/>
<path d="M572 248.7 L586 280 L554 272Z" fill="#222"/>
<path d="M467.0 537.3 L470.2 537.0 L473.3 536.7 L476.5 536.3 L479.6 535.9 L482.8 535.5 L485.9 535.1 L489.0 534.6 L492.1 534.1 L495.2 533.6 L498.3 533.1 L501.4 532.5 L504.5 531.9 L507.6 531.3 L510.7 530.7 L513.8 530.0 L516.9 529.3 L519.9 528.6 L523.0 527.9 L526.1 527.1 L529.1 526.3 L532.2 525.5 L535.2 524.6 L538.2 523.8 L541.3 522.9 L544.3 522.0 L547.3 521.0 L550.3 520.1 L553.3 519.1 L556.3 518.1 L559.3 517.0 L562.3 515.9 L565.3 514.8 L568.3 513.7 L571.3 512.6 L574.2 511.4 L577.2 510.2 L580.2 509.0 L583.1 507.7 L586.1 506.5 L589.0 505.2 L587.0 500.8 L584.1 502.2 L581.3 503.6 L578.4 504.9 L575.5 506.2 L572.6 507.5 L569.7 508.7 L566.8 509.9 L563.9 511.2 L561.0 512.3 L558.0 513.5 L555.1 514.6 L552.2 515.7 L549.2 516.8 L546.3 517.9 L543.3 518.9 L540.3 519.9 L537.4 520.9 L534.4 521.9 L531.4 522.8 L528.4 523.7 L525.4 524.6 L522.4 525.4 L519.4 526.3 L516.3 527.1 L513.3 527.9 L510.3 528.6 L507.2 529.4 L504.2 530.1 L501.1 530.8 L498.0 531.4 L495.0 532.1 L491.9 532.7 L488.8 533.3 L485.7 533.8 L482.6 534.4 L479.5 534.9 L476.4 535.4 L473.2 535.8 L470.1 536.3 L467.0 536.7Z" fill="#222"/>
<path d="M575.3 494 L607.3 494 L587.3 519.3Z" fill="#222"/>
<defs><linearGradient id="ga" x1="0" x2="1"><stop offset="0" stop-color="#222" stop-opacity="0"/><stop offset="0.45" stop-color="#222" stop-opacity="0.85"/><stop offset="1" stop-color="#222"/></linearGradient></defs>
<rect x="410" y="598" width="497" height="6.6" fill="url(#ga)"/>
<path d="M905 587 L935 601.3 L905 616.7Z" fill="#222"/>
<text x="288.9" y="168.7" font-size="30.6" font-weight="400" fill="#111111" stroke="#111111" stroke-width="0.6" text-anchor="middle">Cetuximab</text>
<text x="408.0" y="247.8" font-size="30.6" font-weight="400" fill="#15306f" stroke="#15306f" stroke-width="0.6" text-anchor="middle">FcR</text>
<text x="85.0" y="551.2" font-size="30.6" font-weight="400" fill="#3b5a2c" stroke="#3b5a2c" stroke-width="0.6" text-anchor="middle">EGFR</text>
<text x="220.0" y="392.0" font-size="30.6" font-weight="700" fill="#111111" stroke="#111111" stroke-width="0.25" text-anchor="middle">Tumor cell</text>
<text x="644.8" y="402.0" font-size="30.6" font-weight="700" fill="#111111" stroke="#111111" stroke-width="0.25" text-anchor="middle">Macrophages</text>
<text x="842.1" y="191.9" font-size="30.6" font-weight="400" fill="#111111" stroke="#111111" stroke-width="0.6" text-anchor="middle" textLength="115.5" lengthAdjust="spacingAndGlyphs">NK cells</text>
<text x="1031.0" y="371.0" font-size="30.6" font-weight="400" fill="#111111" stroke="#111111" stroke-width="0.6" text-anchor="middle">EGFR/cetuximab</text>
<text x="1031.5" y="405.0" font-size="30.6" font-weight="400" fill="#111111" stroke="#111111" stroke-width="0.6" text-anchor="middle">complex</text>
<text x="1044.2" y="462.5" font-size="30.6" font-weight="700" fill="#111111" stroke="#111111" stroke-width="0.25" text-anchor="middle">Tumor cell</text>
<text x="719.2" y="542.5" font-size="30.6" font-weight="400" fill="#111111" stroke="#111111" stroke-width="0.6" text-anchor="middle">Downmodulation of</text>
<text x="717.8" y="577.0" font-size="30.6" font-weight="400" fill="#111111" stroke="#111111" stroke-width="0.6" text-anchor="middle">EGFR/cetuximab complexes</text>
<text x="285.0" y="645.5" font-size="30.6" font-weight="400" fill="#111111" stroke="#111111" stroke-width="0.6" text-anchor="middle">Persistent sublethal trogocytosis of</text>
<text x="284.5" y="681.2" font-size="30.6" font-weight="400" fill="#111111" stroke="#111111" stroke-width="0.6" text-anchor="middle">EGFR/cetuximab complexes</text>
<text x="971.8" y="651.4" font-size="30.6" font-weight="400" fill="#111111" stroke="#111111" stroke-width="0.6" text-anchor="middle">Tumor cells become</text>
<text x="970.6" y="687.7" font-size="30.6" font-weight="400" fill="#111111" stroke="#111111" stroke-width="0.6" text-anchor="middle" textLength="412.7" lengthAdjust="spacingAndGlyphs">resistant to subsequent ADCC</text>
</svg>
</body></html>
